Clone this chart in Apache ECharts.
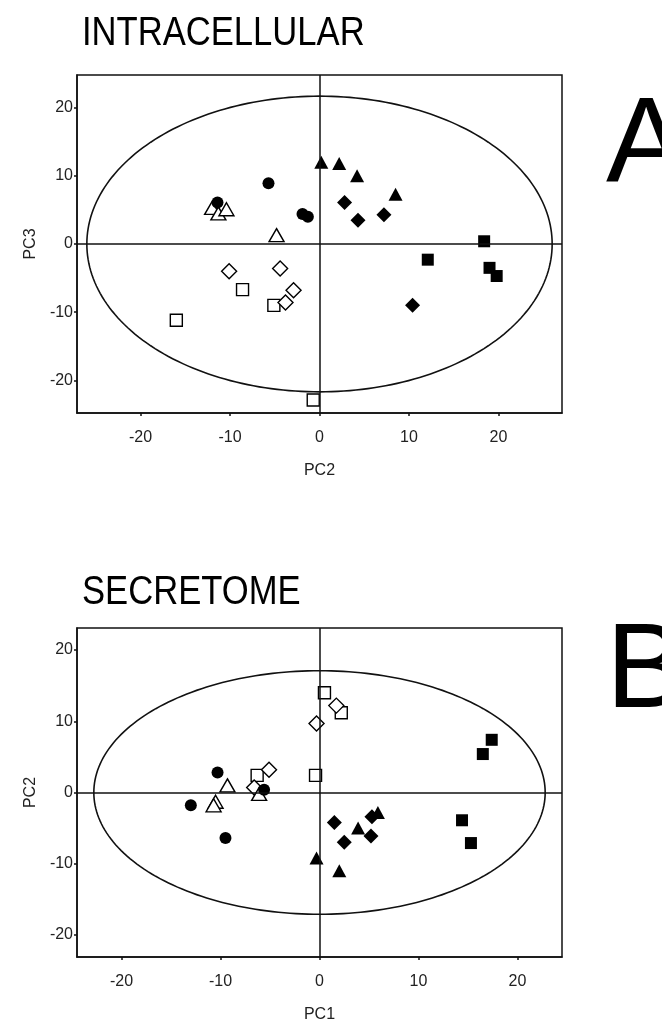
<!DOCTYPE html>
<html>
<head>
<meta charset="utf-8">
<title>PCA score plots</title>
<script src="https://cdn.jsdelivr.net/npm/echarts@6/dist/echarts.min.js"></script>
<style>
  html, body { margin: 0; padding: 0; background: #fff; }
  #chart { width: 662px; height: 1025px; }
</style>
</head>
<body>
<div id="chart"></div>
<script>
// Panel A: intracellular scores (PC2 vs PC3)
const intraFilledTriangle = [[0.2, 12.0], [2.2, 11.8], [4.2, 10.0], [8.5, 7.3]];
const intraFilledDiamond  = [[2.8, 6.1], [4.3, 3.5], [7.2, 4.3], [10.4, -9.0]];
const intraFilledCircle   = [[-5.7, 8.9], [-1.9, 4.4], [-1.3, 4.0], [-11.4, 6.1]];
const intraFilledSquare   = [[18.4, 0.4], [12.1, -2.3], [19.0, -3.5], [19.8, -4.7]];
const intraOpenTriangle   = [[-4.8, 1.3], [-12.0, 5.3], [-11.3, 4.5], [-10.4, 5.1]];
const intraOpenDiamond    = [[-10.1, -4.0], [-4.4, -3.6], [-2.9, -6.8], [-3.8, -8.6]];
const intraOpenSquare     = [[-8.6, -6.7], [-5.1, -9.0], [-16.0, -11.2], [-0.7, -22.9]];
const intraEllipse        = [[0, 0, 26.0, 21.7]]; // centre x, centre y, semi-axis x, semi-axis y

// Panel B: secretome scores (PC1 vs PC2)
const secFilledTriangle = [[5.9, -2.8], [3.9, -5.0], [-0.3, -9.2], [2.0, -11.0]];
const secFilledDiamond  = [[1.5, -4.2], [2.5, -7.0], [5.2, -6.1], [5.3, -3.4]];
const secFilledCircle   = [[-10.3, 2.8], [-13.0, -1.8], [-9.5, -6.4], [-5.6, 0.4]];
const secFilledSquare   = [[14.4, -3.9], [15.3, -7.1], [17.4, 7.4], [16.5, 5.4]];
const secOpenTriangle   = [[-9.3, 1.0], [-10.5, -1.3], [-10.7, -1.8], [-6.1, -0.2]];
const secOpenDiamond    = [[1.7, 12.2], [-0.3, 9.7], [-5.1, 3.2], [-6.6, 0.7]];
const secOpenSquare     = [[0.5, 14.0], [2.2, 11.2], [-6.3, 2.4], [-0.4, 2.4]];
const secEllipse        = [[0, 0, 22.8, 17.1]];

// Tick labels shared by both panels
const tickValues = [-20, -10, 0, 10, 20];

const INK = '#111';
const TEXT = '#222';

function ellipseRenderer(params, api) {
  const cx = api.value(0), cy = api.value(1), a = api.value(2), b = api.value(3);
  const c = api.coord([cx, cy]);
  const rx = api.coord([cx + a, cy])[0] - c[0];
  const ry = c[1] - api.coord([cx, cy + b])[1];
  const pts = [];
  const n = 240;
  for (let i = 0; i < n; i++) {
    const t = (i / n) * Math.PI * 2;
    pts.push([c[0] + rx * Math.cos(t), c[1] + ry * Math.sin(t)]);
  }
  return {
    type: 'polygon',
    shape: { points: pts },
    style: { fill: 'none', stroke: INK, lineWidth: 1.6 }
  };
}

function ellipseSeries(idx, data) {
  return {
    type: 'custom',
    xAxisIndex: idx, yAxisIndex: idx,
    data: data,
    renderItem: ellipseRenderer,
    silent: true,
    z: 1
  };
}

function zeroLines(idx) {
  return {
    type: 'scatter',
    xAxisIndex: idx, yAxisIndex: idx,
    data: [],
    markLine: {
      silent: true,
      symbol: 'none',
      label: { show: false },
      lineStyle: { color: INK, width: 1.5, type: 'solid' },
      data: [{ xAxis: 0 }, { yAxis: 0 }]
    },
    z: 1
  };
}

function marks(idx, data, symbol, size, filled) {
  return {
    type: 'scatter',
    xAxisIndex: idx, yAxisIndex: idx,
    data: data,
    symbol: symbol,
    symbolSize: size,
    itemStyle: filled
      ? { color: '#000', borderColor: '#000', borderWidth: 0, opacity: 1 }
      : { color: '#fff', borderColor: '#000', borderWidth: 1.4, opacity: 1 },
    z: filled ? 4 : 3
  };
}

function valueAxis(idx, min, max, name, isY) {
  return {
    type: 'value',
    gridIndex: idx,
    min: min, max: max,
    name: name,
    nameLocation: 'middle',
    nameGap: isY ? 38 : 50,
    nameRotate: isY ? 90 : 0,
    nameTextStyle: { fontFamily: 'Liberation Sans', fontSize: 16, color: TEXT },
    axisLine: { show: true, onZero: false, lineStyle: { color: INK, width: 1.5 } },
    axisTick: { show: true, length: 3, customValues: tickValues, lineStyle: { color: INK, width: 1.5 } },
    axisLabel: {
      customValues: tickValues,
      fontFamily: 'Liberation Sans', fontSize: 16, color: TEXT,
      margin: isY ? 4 : 17
    },
    splitLine: { show: false }
  };
}

const titleFont = '40px "Liberation Sans", Arial, sans-serif';
const letterFont = '120px "Liberation Sans", Arial, sans-serif';

const chart = echarts.init(document.getElementById('chart'), null, { renderer: 'canvas' });

chart.setOption({
  animation: false,
  backgroundColor: '#fff',
  grid: [
    { left: 77, top: 75, width: 485, height: 338, show: true, borderColor: INK, borderWidth: 1.5, backgroundColor: 'transparent' },
    { left: 77, top: 628, width: 485, height: 329, show: true, borderColor: INK, borderWidth: 1.5, backgroundColor: 'transparent' }
  ],
  xAxis: [
    valueAxis(0, -27.1, 27.1, 'PC2', false),
    valueAxis(1, -24.5, 24.5, 'PC1', false)
  ],
  yAxis: [
    valueAxis(0, -24.8, 24.8, 'PC3', true),
    valueAxis(1, -23.1, 23.1, 'PC2', true)
  ],
  graphic: [
    { type: 'text', x: 82, y: 14, scaleX: 0.865, style: { text: 'INTRACELLULAR', font: titleFont, fill: '#000' } },
    { type: 'text', x: 82, y: 573, scaleX: 0.865, style: { text: 'SECRETOME', font: titleFont, fill: '#000' } },
    { type: 'text', x: 606, y: 88, style: { text: 'A', font: letterFont, fill: '#000' } },
    { type: 'text', x: 606, y: 614, style: { text: 'B', font: letterFont, fill: '#000' } }
  ],
  series: [
    ellipseSeries(0, intraEllipse),
    zeroLines(0),
    marks(0, intraOpenSquare, 'rect', 12, false),
    marks(0, intraOpenDiamond, 'diamond', 15, false),
    marks(0, intraOpenTriangle, 'triangle', [15, 13], false),
    marks(0, intraFilledSquare, 'rect', 12, true),
    marks(0, intraFilledDiamond, 'diamond', 15, true),
    marks(0, intraFilledCircle, 'circle', 12, true),
    marks(0, intraFilledTriangle, 'triangle', [14, 13], true),

    ellipseSeries(1, secEllipse),
    zeroLines(1),
    marks(1, secOpenSquare, 'rect', 12, false),
    marks(1, secOpenDiamond, 'diamond', 15, false),
    marks(1, secOpenTriangle, 'triangle', [15, 13], false),
    marks(1, secFilledSquare, 'rect', 12, true),
    marks(1, secFilledDiamond, 'diamond', 15, true),
    marks(1, secFilledCircle, 'circle', 12, true),
    marks(1, secFilledTriangle, 'triangle', [14, 13], true)
  ]
});
</script>
</body>
</html>
